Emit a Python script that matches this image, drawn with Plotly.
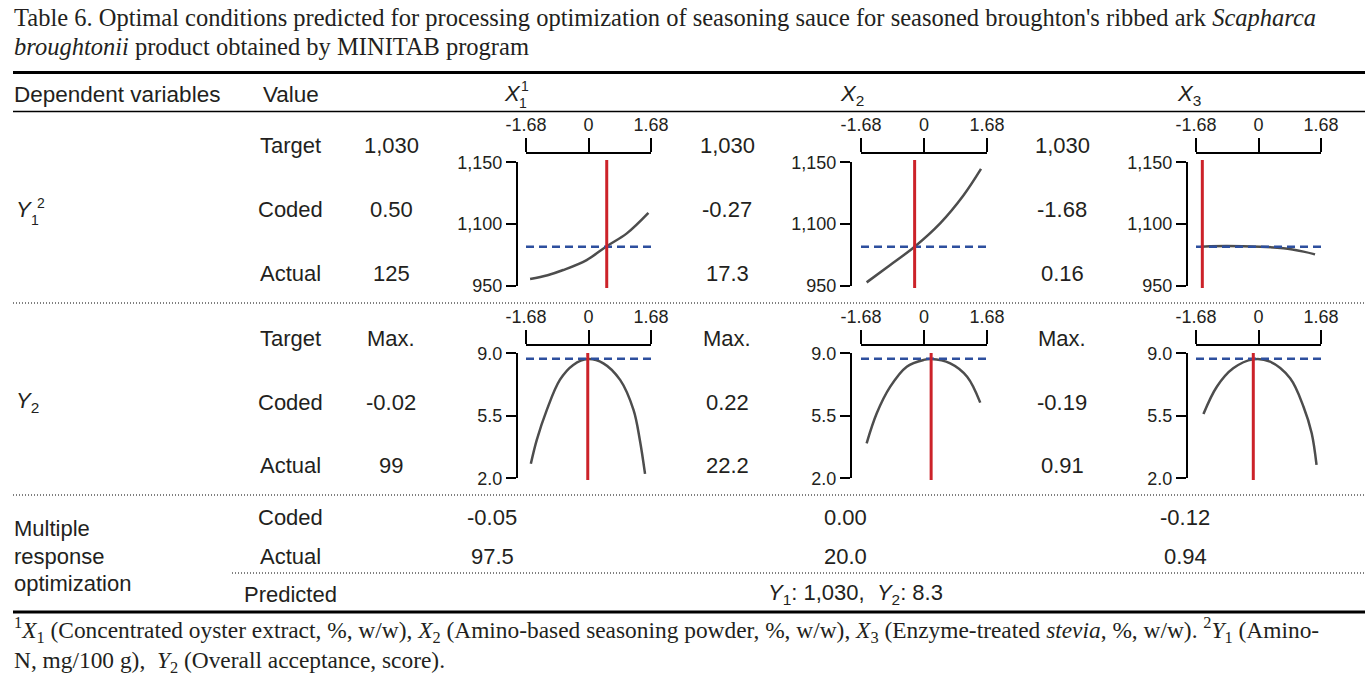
import plotly.graph_objects as go

W, H = 1365, 682

# ---------------- data ----------------
coded_ticks = [-1.68, 0, 1.68]
coded_ticktext = ["-1.68", "0", "1.68"]

y1_tickvals = [1050, 1100, 1150]
y1_ticktext = ["950", "1,100", "1,150"]
y2_tickvals = [2.0, 5.5, 9.0]
y2_ticktext = ["2.0", "5.5", "9.0"]

# Y1 response curves (plotted units)
y1_x1_x = [-1.57, -1.10, -0.68, -0.05, 0.49, 1.03, 1.61]
y1_x1_y = [1055.4, 1058.5, 1062.7, 1070.8, 1082.0, 1092.4, 1109.0]
y1_x2_x = [-1.53, -0.90, -0.25, 0.43, 1.06, 1.52]
y1_x2_y = [1052.7, 1066.8, 1081.6, 1100.5, 1123.5, 1144.6]
y1_x3_x = [-1.55, -1.30, 0.04, 0.67, 1.21, 1.52]
y1_x3_y = [1081.6, 1082.0, 1081.6, 1080.3, 1077.6, 1075.4]

# Y2 response curves
y2_x1_x = [-1.55, -1.39, -1.12, -0.77, -0.41, -0.02, 0.40, 0.85, 1.21, 1.38, 1.52]
y2_x1_y = [2.81, 4.15, 5.83, 7.51, 8.35, 8.68, 8.44, 7.51, 5.83, 4.15, 2.25]
y2_x2_x = [-1.53, -1.26, -0.90, -0.46, -0.01, 0.19, 0.70, 1.15, 1.50]
y2_x2_y = [3.96, 5.64, 7.13, 8.25, 8.63, 8.68, 8.44, 7.69, 6.24]
y2_x3_x = [-1.48, -1.12, -0.68, -0.14, 0.31, 0.85, 1.21, 1.43, 1.56]
y2_x3_y = [5.60, 7.13, 8.16, 8.66, 8.53, 7.60, 6.01, 4.52, 2.75]

y1_target_line = 1081.5
y2_target_line = 8.70

# optimum settings (vertical red lines, coded units)
y1_optimum = [0.49, -0.25, -1.51]
y2_optimum = [-0.02, 0.19, -0.14]

value_labels = ["Target", "Coded", "Actual"]
y1_values = [["1,030", "0.50", "125"], ["1,030", "-0.27", "17.3"], ["1,030", "-1.68", "0.16"]]
y2_values = [["Max.", "-0.02", "99"], ["Max.", "0.22", "22.2"], ["Max.", "-0.19", "0.91"]]
multi_coded = ["-0.05", "0.00", "-0.12"]
multi_actual = ["97.5", "20.0", "0.94"]
predicted_text = "<i>Y</i><sub>1</sub>: 1,030,  <i>Y</i><sub>2</sub>: 8.3"

# ---------------- layout geometry (pixels) ----------------
col_dom = [(526, 651), (861, 987), (1196, 1321)]
col_yaxis_x = [516.7, 850.7, 1186.7]
row_dom = [(162.3, 285.7), (353.3, 478.3)]
row_bracket = [152.7, 345.0]
row_red = [(160, 288), (353, 480)]

SANS = "Liberation Sans, Arial, sans-serif"
SERIF = "Liberation Serif, Times New Roman, serif"
TXT = "#231f20"
CURVE = "#4d4d4d"
BLUE = "#2d4f9e"
RED = "#cc2229"


def px(x):
    return x / W


def py(y):
    return 1 - y / H


fig = go.Figure()
layout = dict(width=W, height=H, margin=dict(l=0, r=0, t=0, b=0, pad=0),
              paper_bgcolor="white", plot_bgcolor="white", showlegend=False)

curves = [
    [(y1_x1_x, y1_x1_y), (y1_x2_x, y1_x2_y), (y1_x3_x, y1_x3_y)],
    [(y2_x1_x, y2_x1_y), (y2_x2_x, y2_x2_y), (y2_x3_x, y2_x3_y)],
]
targets = [y1_target_line, y2_target_line]
optima = [y1_optimum, y2_optimum]
yticks = [(y1_tickvals, y1_ticktext, [1050, 1150]), (y2_tickvals, y2_ticktext, [2.0, 9.0])]

shapes = []
k = 0
for r in range(2):
    for c in range(3):
        k += 1
        xs = "" if k == 1 else str(k)
        xa, ya = "x" + xs, "y" + xs
        layout["xaxis" + xs] = dict(
            domain=[px(col_dom[c][0]), px(col_dom[c][1])], range=[-1.68, 1.68],
            side="top", anchor="free", position=py(row_bracket[r]), automargin=False,
            tickvals=coded_ticks, ticktext=coded_ticktext, ticks="outside",
            ticklen=14, tickwidth=1.5, tickcolor="black", showline=True,
            linewidth=1.5, linecolor="black", showgrid=False, zeroline=False,
            tickfont=dict(family=SANS, size=18, color=TXT), fixedrange=True)
        tv, tt, rng = yticks[r]
        layout["yaxis" + xs] = dict(
            domain=[py(row_dom[r][1]), py(row_dom[r][0])], range=rng,
            side="left", anchor="free", position=px(col_yaxis_x[c]), automargin=False,
            tickvals=tv, ticktext=tt, ticks="outside", ticklen=10,
            tickwidth=1.5, tickcolor="black", showline=True, linewidth=1.5,
            linecolor="black", showgrid=False, zeroline=False,
            tickfont=dict(family=SANS, size=18, color=TXT), fixedrange=True)
        cx, cy = curves[r][c]
        fig.add_trace(go.Scatter(x=cx, y=cy, mode="lines", xaxis=xa, yaxis=ya,
                                 line=dict(color=CURVE, width=2.5, shape="spline"),
                                 hoverinfo="skip"))
        fig.add_trace(go.Scatter(x=[-1.68, 1.68], y=[targets[r], targets[r]], mode="lines",
                                 xaxis=xa, yaxis=ya,
                                 line=dict(color=BLUE, width=2.5, dash="8px,5px"),
                                 hoverinfo="skip"))
        shapes.append(dict(type="line", xref=xa, yref="paper",
                           x0=optima[r][c], x1=optima[r][c],
                           y0=py(row_red[r][0]), y1=py(row_red[r][1]),
                           line=dict(color=RED, width=3)))

# rules
shapes.append(dict(type="line", xref="paper", yref="paper", x0=px(13), x1=1,
                   y0=py(72.5), y1=py(72.5), line=dict(color="black", width=3)))
shapes.append(dict(type="line", xref="paper", yref="paper", x0=px(13), x1=1,
                   y0=py(111.5), y1=py(111.5), line=dict(color="black", width=1.5)))
for yy, x0 in [(303, 13), (495, 13), (573, 232)]:
    shapes.append(dict(type="line", xref="paper", yref="paper", x0=px(x0), x1=1,
                       y0=py(yy), y1=py(yy), line=dict(color="black", width=1, dash="1px,2px")))
shapes.append(dict(type="line", xref="paper", yref="paper", x0=px(13), x1=1,
                   y0=py(612), y1=py(612), line=dict(color="black", width=3)))
layout["shapes"] = shapes

ann = []


def add_text(text, x, y, xanchor="center", size=22, family=SANS):
    ann.append(dict(text=text, x=px(x), y=py(y), xref="paper", yref="paper",
                    xanchor=xanchor, yanchor="middle", showarrow=False,
                    font=dict(family=family, size=size, color=TXT)))


# title
add_text("Table 6. Optimal conditions predicted for processing optimization of seasoning sauce for "
         "seasoned broughton's ribbed ark <i>Scapharca</i>", 12, 18, "left", 24.5, SERIF)
add_text("<i>broughtonii</i> product obtained by MINITAB program", 12, 47, "left", 24.5, SERIF)

# header
add_text("Dependent variables", 12, 95, "left", 22.5)
add_text("Value", 261, 95, "left", 22.5)
# X1 with stacked subscript 1 and superscript 1
add_text("<i>X</i>", 502, 94, "left")
add_text("1", 517, 103, "left", 14)
add_text("1", 519, 86, "left", 14)
add_text("<i>X</i><sub>2</sub>", 852, 95)
add_text("<i>X</i><sub>3</sub>", 1189, 95)

# dependent variable labels
add_text("<i>Y</i>", 14, 210, "left")
add_text("1", 29, 220, "left", 14)
add_text("2", 35, 203, "left", 14)
add_text("<i>Y</i><sub>2</sub>", 14, 402, "left")

label_x = 290
value_cols = [391, 727, 1062]
row_y = [[145, 210, 273], [338, 402, 466]]
for r, vals in enumerate([y1_values, y2_values]):
    for i, lab in enumerate(value_labels):
        add_text(lab, label_x, row_y[r][i])
    for c in range(3):
        for i in range(3):
            add_text(vals[c][i], value_cols[c], row_y[r][i])

# multiple response
add_text("Multiple", 12, 528, "left")
add_text("response", 12, 556, "left")
add_text("optimization", 12, 583, "left")
add_text("Coded", label_x, 517)
add_text("Actual", label_x, 556)
add_text("Predicted", label_x, 594)
multi_cols = [492, 845, 1185]
for c in range(3):
    add_text(multi_coded[c], multi_cols[c], 517)
    add_text(multi_actual[c], multi_cols[c], 556)
add_text(predicted_text, 855, 594)

# footnote
add_text("<sup>1</sup><i>X</i><sub>1</sub> (Concentrated oyster extract, %, w/w), <i>X</i><sub>2</sub> "
         "(Amino-based seasoning powder, %, w/w), <i>X</i><sub>3</sub> (Enzyme-treated <i>stevia</i>, %, w/w). "
         "<sup>2</sup><i>Y</i><sub>1</sub> (Amino-", 12, 630, "left", 23.4, SERIF)
add_text("N, mg/100 g),  <i>Y</i><sub>2</sub> (Overall acceptance, score).", 12, 662, "left", 23.4, SERIF)

layout["annotations"] = ann
fig.update_layout(**layout)
fig.write_html("out.html", config={"displayModeBar": False},
               post_script="document.body.style.margin='0';document.body.style.overflow='hidden';")
